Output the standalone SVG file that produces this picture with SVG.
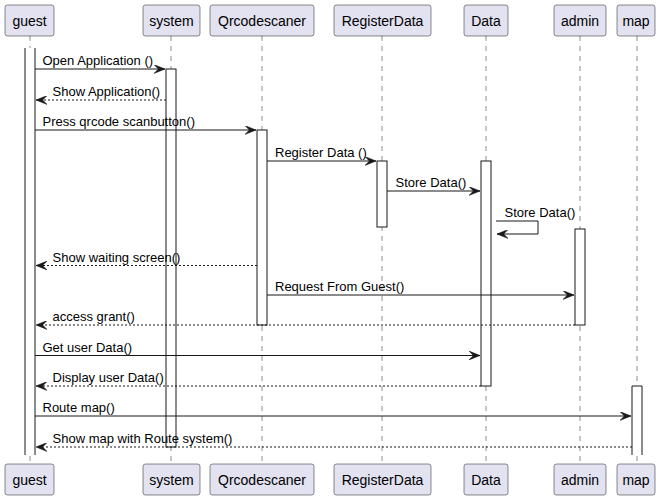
<svg xmlns="http://www.w3.org/2000/svg" width="662" height="500" viewBox="0 0 662 500">
<style>
.pbox{fill:#E2E2F0;stroke:#181818;stroke-width:0.5;}
.ptxt{font-family:"Liberation Sans",Arial,sans-serif;font-size:14px;fill:#000;text-anchor:middle;}
.life{stroke:#181818;stroke-width:0.5;stroke-dasharray:5,5;fill:none;}
.act{fill:#FFFFFF;stroke:#181818;stroke-width:1;}
.msg{stroke:#181818;stroke-width:1;fill:none;}
.ret{stroke:#181818;stroke-width:1;fill:none;stroke-dasharray:2,2;}
.mtxt{font-family:"Liberation Sans",Arial,sans-serif;font-size:13px;fill:#000;}
</style>
<defs>
<marker id="ah" markerUnits="userSpaceOnUse" markerWidth="11" markerHeight="9" refX="10" refY="4" orient="auto" viewBox="0 0 10 8">
<path d="M0,0 L10,4 L0,8 L4,4 Z" fill="#181818" stroke="#181818" stroke-width="0.5"/>
</marker>
</defs>
<rect width="662" height="500" fill="#FFFFFF"/>
<g id="lifelines">
<line class="life" x1="30" y1="36" x2="30" y2="464"/>
<line class="life" x1="171" y1="36" x2="171" y2="464"/>
<line class="life" x1="262" y1="36" x2="262" y2="464"/>
<line class="life" x1="382" y1="36" x2="382" y2="464"/>
<line class="life" x1="486" y1="36" x2="486" y2="464"/>
<line class="life" x1="580" y1="36" x2="580" y2="464"/>
<line class="life" x1="637" y1="36" x2="637" y2="464"/>
</g>
<g id="guest">
<rect class="pbox" x="5" y="5" width="49" height="31" rx="2.5"/>
<text class="ptxt" x="29.5" y="25.5">guest</text>
<rect class="pbox" x="5" y="464" width="49" height="31" rx="2.5"/>
<text class="ptxt" x="29.5" y="484.5">guest</text>
<rect x="25" y="48" width="10" height="407" fill="#FFFFFF"/>
<path class="act" d="M25,48 V455 M35,48 V455"/>
</g>
<g id="system">
<rect class="pbox" x="143" y="5" width="57" height="31" rx="2.5"/>
<text class="ptxt" x="171.5" y="25.5">system</text>
<rect class="pbox" x="143" y="464" width="57" height="31" rx="2.5"/>
<text class="ptxt" x="171.5" y="484.5">system</text>
<rect class="act" x="166" y="69" width="10" height="378"/>
</g>
<g id="Qrcodescaner">
<rect class="pbox" x="210" y="5" width="104" height="31" rx="2.5"/>
<text class="ptxt" x="262" y="25.5">Qrcodescaner</text>
<rect class="pbox" x="210" y="464" width="104" height="31" rx="2.5"/>
<text class="ptxt" x="262" y="484.5">Qrcodescaner</text>
<rect class="act" x="257" y="130" width="10" height="195"/>
</g>
<g id="RegisterData">
<rect class="pbox" x="334" y="5" width="97" height="31" rx="2.5"/>
<text class="ptxt" x="382.5" y="25.5">RegisterData</text>
<rect class="pbox" x="334" y="464" width="97" height="31" rx="2.5"/>
<text class="ptxt" x="382.5" y="484.5">RegisterData</text>
<rect class="act" x="377" y="161" width="10" height="66"/>
</g>
<g id="Data">
<rect class="pbox" x="464" y="5" width="44" height="31" rx="2.5"/>
<text class="ptxt" x="486" y="25.5">Data</text>
<rect class="pbox" x="464" y="464" width="44" height="31" rx="2.5"/>
<text class="ptxt" x="486" y="484.5">Data</text>
<rect class="act" x="481" y="161" width="10" height="225"/>
</g>
<g id="admin">
<rect class="pbox" x="554" y="5" width="52" height="31" rx="2.5"/>
<text class="ptxt" x="580" y="25.5">admin</text>
<rect class="pbox" x="554" y="464" width="52" height="31" rx="2.5"/>
<text class="ptxt" x="580" y="484.5">admin</text>
<rect class="act" x="575" y="229" width="10" height="96"/>
</g>
<g id="map">
<rect class="pbox" x="617" y="5" width="38" height="31" rx="2.5"/>
<text class="ptxt" x="636" y="25.5">map</text>
<rect class="pbox" x="617" y="464" width="38" height="31" rx="2.5"/>
<text class="ptxt" x="636" y="484.5">map</text>
<rect x="632" y="386" width="10" height="69" fill="#FFFFFF"/>
<path class="act" d="M632,455 V386 H642 V455"/>
</g>
<g id="connectors">
<line class="msg" x1="35" y1="69" x2="165" y2="69" marker-end="url(#ah)"/>
<text class="mtxt" x="42.5" y="65">Open Application ()</text>
<line class="ret" x1="166" y1="100" x2="36" y2="100" marker-end="url(#ah)"/>
<text class="mtxt" x="52.5" y="96">Show Application()</text>
<line class="msg" x1="35" y1="130" x2="256" y2="130" marker-end="url(#ah)"/>
<text class="mtxt" x="42.5" y="126">Press qrcode scanbutton()</text>
<line class="msg" x1="267" y1="161" x2="376" y2="161" marker-end="url(#ah)"/>
<text class="mtxt" x="275" y="157">Register Data ()</text>
<line class="msg" x1="387" y1="191" x2="480" y2="191" marker-end="url(#ah)"/>
<text class="mtxt" x="395.5" y="187">Store Data()</text>
<path class="msg" d="M496,221 H538 V234 H497" marker-end="url(#ah)"/>
<text class="mtxt" x="504.5" y="217">Store Data()</text>
<line class="ret" x1="257" y1="265.5" x2="36" y2="265.5" marker-end="url(#ah)"/>
<text class="mtxt" x="52.5" y="261.5">Show waiting screen()</text>
<line class="msg" x1="267" y1="295" x2="574" y2="295" marker-end="url(#ah)"/>
<text class="mtxt" x="275" y="291">Request From Guest()</text>
<line class="ret" x1="575" y1="325" x2="36" y2="325" marker-end="url(#ah)"/>
<text class="mtxt" x="52.5" y="321">access grant()</text>
<line class="msg" x1="35" y1="355.5" x2="480" y2="355.5" marker-end="url(#ah)"/>
<text class="mtxt" x="42.5" y="351.5">Get user Data()</text>
<line class="ret" x1="481" y1="386" x2="36" y2="386" marker-end="url(#ah)"/>
<text class="mtxt" x="52.5" y="382">Display user Data()</text>
<line class="msg" x1="35" y1="416" x2="631" y2="416" marker-end="url(#ah)"/>
<text class="mtxt" x="42.5" y="412">Route map()</text>
<line class="ret" x1="632" y1="447" x2="36" y2="447" marker-end="url(#ah)"/>
<text class="mtxt" x="52.5" y="443">Show map with Route system()</text>
</g>
</svg>
